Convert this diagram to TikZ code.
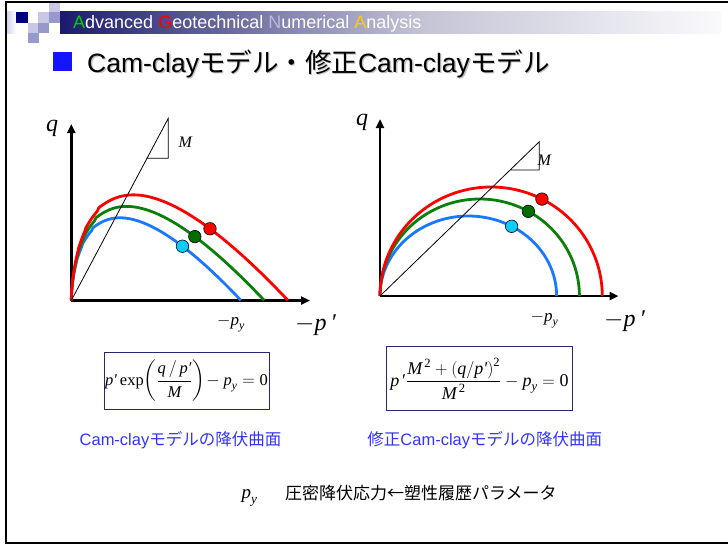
\documentclass[tikz,border=0pt]{standalone}
\usepackage{fontspec}
\usepackage{amsmath}
\setmainfont{Liberation Sans}
\newfontfamily\jp{Noto Sans CJK JP}
\newfontfamily\tms{Liberation Serif}
\usetikzlibrary{arrows.meta}
\definecolor{cred}{RGB}{255,0,0}
\definecolor{cgreen}{RGB}{10,128,10}
\definecolor{cblue}{RGB}{25,120,255}
\definecolor{dotgreen}{RGB}{0,110,0}
\definecolor{dotcyan}{RGB}{10,205,250}
\definecolor{navyA}{RGB}{26,26,110}
\definecolor{midA}{RGB}{120,120,168}
\definecolor{grayA}{RGB}{196,196,214}
\definecolor{whiteA}{RGB}{250,250,252}
\definecolor{sqnavy}{RGB}{0,0,128}
\definecolor{sqlight}{RGB}{200,200,230}
\definecolor{sqmid}{RGB}{152,152,204}
\definecolor{lavL}{RGB}{214,214,236}
\definecolor{agreen}{RGB}{0,210,0}
\definecolor{alav}{RGB}{185,185,215}
\definecolor{ayellow}{RGB}{255,204,0}
\definecolor{tblue}{RGB}{20,20,255}
\definecolor{capblue}{RGB}{51,51,255}
\definecolor{boxc}{RGB}{40,40,110}
\pgfdeclarehorizontalshading{band}{100bp}{color(0bp)=(navyA); color(25bp)=(navyA); color(40bp)=(midA); color(52.5bp)=(grayA); color(75bp)=(whiteA); color(100bp)=(whiteA)}
\begin{document}
\begin{tikzpicture}[x=1pt,y=-1pt,
  axisln/.style={line width=2.5pt,-{Triangle[length=9pt,width=8pt]}},
  crv/.style={line width=2.8pt},
  mline/.style={line width=0.8pt},
  dot/.style={circle,draw=black,line width=0.6pt,minimum size=12.5pt,inner sep=0},
  sq/.style={inner sep=0,minimum size=11pt,anchor=north west},
  lbl/.style={inner sep=0,anchor=base west},
  captext/.style={inner sep=0,text=capblue,font=\fontsize{16.5}{18}\selectfont},
  fbox/.style={draw=boxc,line width=0.8pt,inner sep=1pt,font=\tms\fontsize{18}{22}\selectfont}]
\useasboundingbox (0,0) rectangle (728,544);
% frame
\draw[line width=2pt] (6.2,544) -- (6.2,2) -- (728,2);
\draw[line width=2pt] (5.2,542.5) -- (728,542.5);
% header band
\shade[shading=band] (60,11) rectangle (721,33);
\shade[left color=lavL,right color=white] (7.2,11) rectangle (16,33);
\node[sq,fill=sqnavy,minimum width=11.5pt,minimum height=10.5pt] (s1) at (16,12) {};
\node[sq,fill=sqlight,minimum width=11pt,minimum height=10.5pt] (s2) at (38,12) {};
\node[sq,fill=sqlight,minimum width=11pt,minimum height=9pt] (s3) at (49,3) {};
\node[sq,fill=sqmid,minimum width=11pt,minimum height=10.5pt] (s4) at (49,12) {};
\node[sq,fill=sqlight,minimum width=11pt,minimum height=10pt] (s5) at (27.5,22.5) {};
\node[sq,fill=sqmid,minimum width=11pt,minimum height=10pt] (s6) at (38,22.5) {};
\node[sq,fill=sqmid,minimum width=11pt,minimum height=10pt] (s7) at (27.5,32.5) {};
\node[lbl,text=white,font=\fontsize{18}{18}\selectfont] (band) at (73,28.5)
  {\textcolor{agreen}{A}dvanced \textcolor{cred}{G}eotechnical \textcolor{alav}{N}umerical \textcolor{ayellow}{A}nalysis};
% title
\node[inner sep=0,fill=tblue,minimum size=19pt,anchor=north west] (bullet) at (53,52) {};
\node[lbl,text=black!25,font=\fontsize{26.5}{28}\selectfont] (titleshadow) at (88.3,73.3)
  {Cam-clay{\jp モデル・修正}Cam-clay{\jp モデル}};
\node[lbl,font=\fontsize{26.5}{28}\selectfont] (title) at (87,72)
  {Cam-clay{\jp モデル・修正}Cam-clay{\jp モデル}};
% ===== left plot =====
\coordinate (O1) at (71.3,300.5);
\coordinate (X1) at (310,300.5);
\coordinate (Y1) at (71.3,124);
\draw[axisln] (O1) -- (X1);
\draw[axisln] (O1) -- (Y1);
\foreach \py/\col in {169.7/cblue,193/cgreen,216.7/cred}
  \draw[crv,\col] (O1) -- plot[variable=\s,domain=0.03:1,samples=90]
   ({71.3+\py*\s*\s},{300.5-1.06*\py*(\s*\s)^0.8*(-2*ln(\s))});
\coordinate (M1a) at (168.3,118.3);
\coordinate (M1b) at (168.3,158.3);
\coordinate (M1c) at (147,158.3);
\draw[mline] (O1) -- (M1a) -- (M1b) -- (M1c);
\node[dot,fill=dotcyan] (d1b) at ({71.3+169.7*0.655},{300.5-1.06*169.7*0.655^0.8*(-ln(0.655))}) {};
\node[dot,fill=dotgreen] (d1g) at ({71.3+193*0.64},{300.5-1.06*193*0.64^0.8*(-ln(0.64))}) {};
\node[dot,fill=cred] (d1r) at ({71.3+216.7*0.64},{300.5-1.06*216.7*0.64^0.8*(-ln(0.64))}) {};
\node[lbl,font=\tms\itshape\fontsize{24}{24}\selectfont] (q1) at (46,131) {q};
\node[lbl,font=\tms\itshape\fontsize{16}{16}\selectfont] (m1) at (178.3,147.7) {M};
\node[lbl,font=\tms\fontsize{17}{17}\selectfont] (py1) at (217,325) {$-\textit{p}_{\textit{y}}$};
\node[lbl,font=\tms\fontsize{24}{24}\selectfont] (pp1) at (295,330) {$-$\textit{p\,′}};
% ===== right plot =====
\coordinate (O2) at (380,296);
\coordinate (X2) at (618.5,296);
\coordinate (Y2) at (380,119);
\draw[axisln] (O2) -- (X2);
\draw[axisln] (O2) -- (Y2);
\foreach \a/\b/\col in {88.3/80/cblue,99.7/97/cgreen,111.15/109/cred}
  \draw[crv,\col] plot[variable=\t,domain=180:0,samples=90]
   ({380+\a+\a*cos(\t)},{296-\b*sin(\t)});
\coordinate (M2a) at (539.3,141.7);
\coordinate (M2b) at (539.3,170);
\coordinate (M2c) at (510.5,170);
\draw[mline] (O2) -- (M2a) -- (M2b) -- (M2c);
\node[dot,fill=dotcyan] (d2b) at ({380+88.3+88.3*cos(60.6)},{296-80*sin(60.6)}) {};
\node[dot,fill=dotgreen] (d2g) at ({380+99.7+99.7*cos(60.8)},{296-97*sin(60.8)}) {};
\node[dot,fill=cred] (d2r) at ({380+111.15+111.15*cos(62.8)},{296-109*sin(62.8)}) {};
\node[lbl,font=\tms\itshape\fontsize{24}{24}\selectfont] (q2) at (356,125) {q};
\node[lbl,font=\tms\itshape\fontsize{16}{16}\selectfont] (m2) at (537.5,165.7) {M};
\node[lbl,font=\tms\fontsize{17}{17}\selectfont] (py2) at (530.5,321.7) {$-\textit{p}_{\textit{y}}$};
\node[lbl,font=\tms\fontsize{24}{24}\selectfont] (pp2) at (604,326.7) {$-$\textit{p\,′}};
% ===== formulas =====
\node[fbox,font=\tms\fontsize{16.5}{22}\selectfont,minimum width=165pt,minimum height=57pt] (f1) at (186.5,381)
  {$\textit{p′}\,\text{exp}\!\left(\dfrac{\textit{q}\,/\,\textit{p′}}{\textit{M}}\right)\!-\textit{p}_{\textit{y}}=\text{0}$};
\node[fbox,minimum width=185.6pt,minimum height=64pt] (f2) at (479.5,378.7)
  {$\textit{p}\,\text{′}\dfrac{\textit{M}^{\,\text{2}}+\left(\textit{q}/\textit{p′}\right)^{\text{2}}}{\textit{M}^{\,\text{2}}}-\textit{p}_{\textit{y}}=\text{0}$};
% captions
\node[captext] (c1) at (180.5,440) {Cam-clay{\jp モデルの降伏曲面}};
\node[captext] (c2) at (484.8,440) {{\jp 修正}Cam-clay{\jp モデルの降伏曲面}};
% bottom note
\node[lbl,font=\tms\fontsize{19}{19}\selectfont] (pyn) at (241.5,498.3) {$\textit{p}_{\textit{y}}$};
\node[inner sep=0,anchor=west,font=\jp\fontsize{17}{18}\selectfont] (note) at (285,493.3) {圧密降伏応力←塑性履歴パラメータ};
\end{tikzpicture}
\end{document}
